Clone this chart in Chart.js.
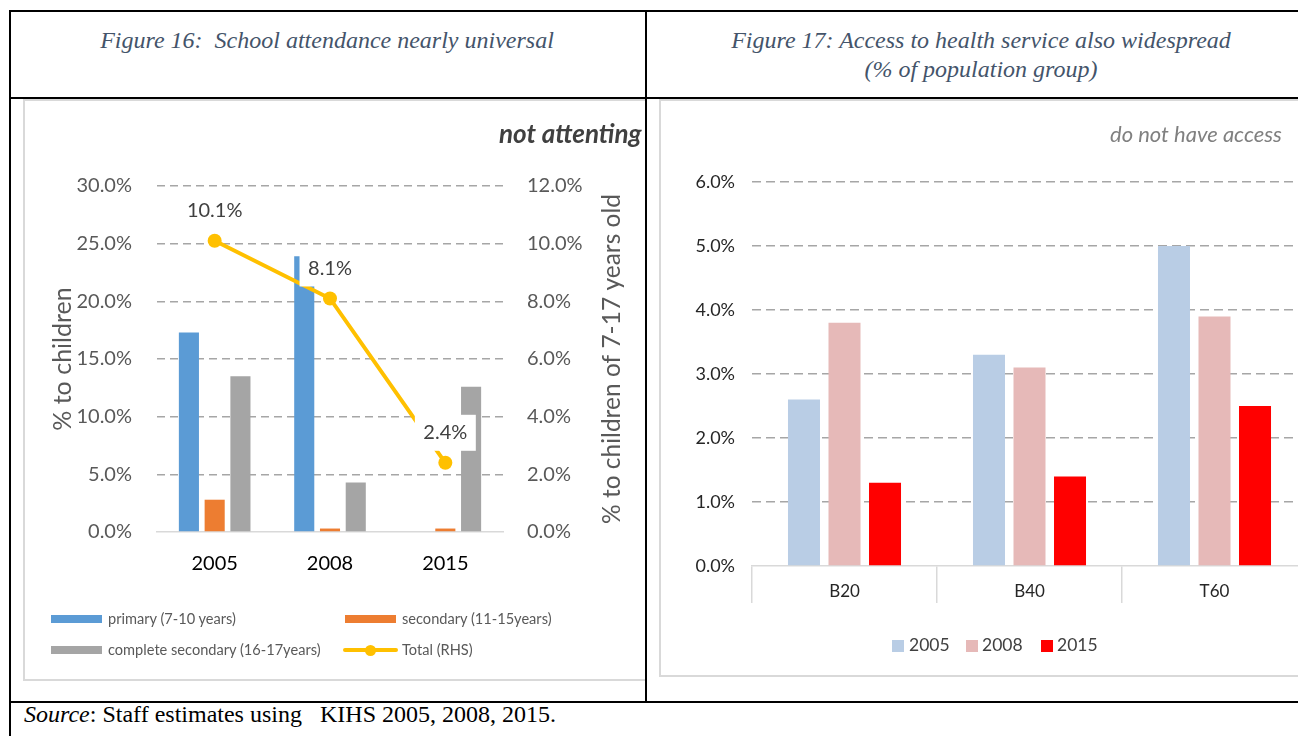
<!DOCTYPE html>
<html>
<head>
<meta charset="utf-8">
<title>Figures 16 and 17</title>
<script src="https://cdn.jsdelivr.net/npm/chart.js@4.4.1/dist/chart.umd.min.js"></script>
<style>
  html, body { margin: 0; padding: 0; background: #fff; }
  body { position: relative; width: 1298px; height: 736px; overflow: hidden; font-family: Lato, sans-serif; }
  .rule { position: absolute; background: #000; }
  .cap { position: absolute; font-family: "Liberation Serif", "Times New Roman", serif; font-style: italic;
         font-size: 24px; line-height: 29px; color: #44546a; text-align: center; white-space: nowrap; }
  .frame { position: absolute; border: 2px solid #d9d9d9; box-sizing: border-box; }
  .leg { position: absolute; font-size: 14.6px; line-height: 16px; color: #595959; white-space: nowrap; }
  .leg2 { position: absolute; font-size: 17.5px; line-height: 20px; color: #404040; white-space: nowrap; }
  .sw { position: absolute; }
</style>
</head>
<body>

<div id="leftCell" style="position:absolute;left:0;top:0;width:645px;height:736px;overflow:hidden;">
  <div class="frame" style="left:23px;top:99px;width:640px;height:582px;"></div>
  <canvas id="schoolChart" width="622" height="580" style="position:absolute;left:23px;top:100px;"></canvas>
  <div style="position:absolute;left:499px;top:117px;font-size:26px;line-height:32px;font-weight:bold;font-style:italic;color:#404040;white-space:nowrap;">not attenting</div>

  <div class="sw" style="left:51px;top:615px;width:51px;height:8px;background:#5b9bd5;"></div>
  <div class="leg" style="left:108px;top:611px;">primary (7-10 years)</div>
  <div class="sw" style="left:345px;top:615px;width:51px;height:8px;background:#ed7d31;"></div>
  <div class="leg" style="left:402px;top:611px;">secondary (11-15years)</div>
  <div class="sw" style="left:51px;top:646px;width:51px;height:8px;background:#a5a5a5;"></div>
  <div class="leg" style="left:108px;top:642px;">complete secondary (16-17years)</div>
  <div class="sw" style="left:343px;top:648px;width:55px;height:4px;border-radius:2px;background:#ffc000;"></div>
  <div class="sw" style="left:365px;top:645px;width:11px;height:11px;border-radius:50%;background:#ffc000;"></div>
  <div class="leg" style="left:402px;top:642px;">Total (RHS)</div>
</div>

<div class="frame" style="left:659px;top:99px;width:700px;height:578px;"></div>
<canvas id="healthChart" width="660" height="576" style="position:absolute;left:660px;top:100px;"></canvas>
<div style="position:absolute;left:1110px;top:121px;font-size:22px;line-height:26px;font-style:italic;color:#808080;white-space:nowrap;">do not have access</div>

<div class="sw" style="left:892px;top:640px;width:12px;height:12px;background:#b9cde5;"></div>
<div class="leg2" style="left:909px;top:635px;">2005</div>
<div class="sw" style="left:966px;top:640px;width:12px;height:12px;background:#e6b9b8;"></div>
<div class="leg2" style="left:982px;top:635px;">2008</div>
<div class="sw" style="left:1041px;top:640px;width:12px;height:12px;background:#ff0000;"></div>
<div class="leg2" style="left:1057px;top:635px;">2015</div>

<!-- table rules -->
<div class="rule" style="left:9px;top:10px;width:1300px;height:2px;"></div>
<div class="rule" style="left:9px;top:97px;width:1300px;height:2px;"></div>
<div class="rule" style="left:9px;top:701px;width:1300px;height:2px;"></div>
<div class="rule" style="left:9px;top:10px;width:2px;height:726px;"></div>
<div class="rule" style="left:645px;top:10px;width:2px;height:693px;"></div>

<div class="cap" style="left:0px;top:26px;width:654px;">Figure 16:&nbsp; School attendance nearly universal</div>
<div class="cap" style="left:646px;top:26px;width:670px;">Figure 17: Access to health service also widespread<br>(% of population group)</div>

<div style="position:absolute;left:24px;top:700px;font-family:'Liberation Serif','Times New Roman',serif;font-size:24px;line-height:29px;color:#000;white-space:nowrap;"><i>Source</i>: Staff estimates using &nbsp; KIHS 2005, 2008, 2015.</div>

<script>
// Figure 16: share of children not attending school
const years = ["2005", "2008", "2015"];
const primaryNA = [17.3, 23.9, 0];
const secondaryNA = [2.8, 0.3, 0.3];
const completeSecNA = [13.5, 4.3, 12.6];
const totalNA = [10.1, 8.1, 2.4];

// Figure 17: share without access to health service
const groups = ["B20", "B40", "T60"];
const noAccess2005 = [2.6, 3.3, 5.0];
const noAccess2008 = [3.8, 3.1, 3.9];
const noAccess2015 = [1.3, 1.4, 2.5];

Chart.defaults.font.family = "Lato, sans-serif";
Chart.defaults.animation = false;

const pct = v => v.toFixed(1) + "%";
const dashGrid = c => c.tick && c.tick.value === 0 ? "rgba(0,0,0,0)" : "#a6a6a6";

// labels over the total line, with a white box behind them
const totalLabels = {
    id: "totalLabels",
    afterDatasetsDraw(chart) {
        const ctx = chart.ctx;
        const meta = chart.getDatasetMeta(0);
        ctx.save();
        ctx.font = "20px Lato";
        ctx.textAlign = "center";
        ctx.textBaseline = "middle";
        meta.data.forEach((pt, i) => {
            const txt = pct(totalNA[i]);
            const w = ctx.measureText(txt).width + 17;
            const y = pt.y - 30;
            ctx.fillStyle = "#fff";
            ctx.fillRect(pt.x - w / 2, y - 18, w, 36);
            ctx.fillStyle = "#404040";
            ctx.fillText(txt, pt.x, y);
        });
        ctx.restore();
    }
};

// right axis title reads bottom-to-top like the left one
const rightTitle = {
    id: "rightTitle",
    afterDraw(chart) {
        const ctx = chart.ctx;
        const a = chart.chartArea;
        ctx.save();
        ctx.translate(589, (a.top + a.bottom) / 2);
        ctx.rotate(-Math.PI / 2);
        ctx.font = "24.5px Lato";
        ctx.fillStyle = "#595959";
        ctx.textAlign = "center";
        ctx.textBaseline = "middle";
        ctx.fillText("% to children of 7-17 years old", 0, 0);
        ctx.restore();
    }
};

function bar(label, data, color) {
    return { type: "bar", label, data, backgroundColor: color, borderWidth: 0,
             categoryPercentage: 0.67, barPercentage: 0.78, order: 1 };
}

const schoolChart = new Chart(document.getElementById("schoolChart"), {
    data: {
        labels: years,
        datasets: [
            { type: "line", label: "Total (RHS)", data: totalNA, yAxisID: "y1", order: 0,
              borderColor: "#ffc000", backgroundColor: "#ffc000", borderWidth: 4,
              pointRadius: 7, pointBorderWidth: 0, tension: 0 },
            bar("primary (7-10 years)", primaryNA, "#5b9bd5"),
            bar("secondary (11-15years)", secondaryNA, "#ed7d31"),
            bar("complete secondary (16-17years)", completeSecNA, "#a5a5a5")
        ]
    },
    options: {
        responsive: false,
        animation: false,
        layout: { padding: { left: 21, right: 0, top: 86, bottom: 88 } },
        plugins: { legend: { display: false }, tooltip: { enabled: false } },
        scales: {
            x: {
                grid: { display: false, drawTicks: false },
                border: { display: true, color: "#d9d9d9", width: 1.5 },
                ticks: { color: "#000", font: { size: 20 }, padding: 20 },
                afterFit: s => { s.height = 60; }
            },
            y: {
                position: "left", min: 0, max: 30,
                ticks: { stepSize: 5, callback: pct, color: "#595959", font: { size: 20 }, padding: 25 },
                grid: { color: dashGrid, lineWidth: 1.5, drawTicks: false },
                border: { display: false, dash: [8, 5] },
                title: { display: true, text: "% to children", color: "#595959", font: { size: 25 }, padding: { top: 4, bottom: 4 } },
                afterFit: s => { s.width = 113; }
            },
            y1: {
                position: "right", min: 0, max: 12,
                ticks: { stepSize: 2, callback: pct, color: "#595959", font: { size: 20 }, padding: 24 },
                grid: { display: false, drawTicks: false },
                border: { display: false },
                afterFit: s => { s.width = 142; }
            }
        }
    },
    plugins: [totalLabels, rightTitle]
});

const healthChart = new Chart(document.getElementById("healthChart"), {
    type: "bar",
    data: {
        labels: groups,
        datasets: [
            { label: "2005", data: noAccess2005, backgroundColor: "#b9cde5" },
            { label: "2008", data: noAccess2008, backgroundColor: "#e6b9b8" },
            { label: "2015", data: noAccess2015, backgroundColor: "#ff0000" }
        ]
    },
    options: {
        responsive: false,
        animation: false,
        layout: { padding: { left: 0, right: 13, top: 82, bottom: 70 } },
        plugins: { legend: { display: false }, tooltip: { enabled: false } },
        datasets: { bar: { categoryPercentage: 0.657, barPercentage: 0.79, borderWidth: 0 } },
        scales: {
            x: {
                grid: { display: true, drawOnChartArea: false, drawTicks: true, tickLength: 37,
                        color: "#d9d9d9", tickColor: "#d9d9d9", lineWidth: 1.5 },
                border: { display: true, color: "#d9d9d9", width: 1.5 },
                ticks: { color: "#262626", font: { size: 17 }, padding: -22 },
                afterFit: s => { s.height = 40; }
            },
            y: {
                min: 0, max: 6,
                ticks: { stepSize: 1, callback: pct, color: "#262626", font: { size: 18 }, padding: 17 },
                grid: { color: dashGrid, lineWidth: 1.5, drawTicks: false },
                border: { display: false, dash: [9, 5] },
                afterFit: s => { s.width = 92; }
            }
        }
    }
});
</script>
</body>
</html>
